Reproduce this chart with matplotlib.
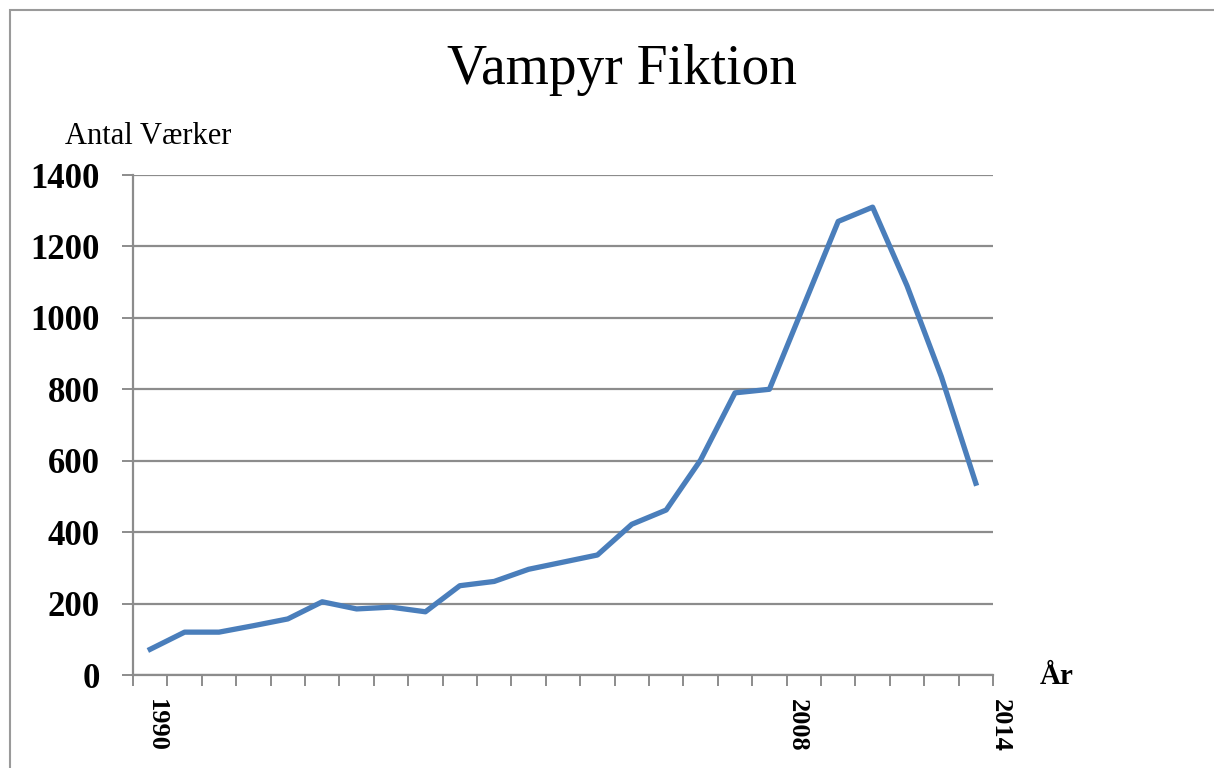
import numpy as np
import matplotlib.pyplot as plt
import matplotlib.transforms as mtransforms
from matplotlib.patches import Rectangle

# data
years = list(range(1990, 2015))
vaerker = [72, 120, 120, 138, 157, 205, 185, 190, 177, 250, 262, 296,
           316, 336, 422, 462, 602, 790, 800, 1035, 1270, 1310, 1090, 835, 537]
shown_years = [1990, 2008, 2014]

plt.rcParams['font.family'] = ['Liberation Serif', 'DejaVu Serif']

fig = plt.figure(figsize=(12.14, 7.68), dpi=100)
fig.patches.append(Rectangle((10/1214, -0.01), 1.1, 1 - 10/768 + 0.01, transform=fig.transFigure,
                             fill=False, edgecolor='#9a9a9a', lw=1.5))

ax = fig.add_axes([133/1214, 1 - 675/768, 860/1214, 500/768])
ax.plot(years, vaerker, color='#4a7ebb', lw=3.8, solid_joinstyle='round', zorder=3)

ax.set_xlim(1989.5, 2014.5)
ax.set_ylim(0, 1400)
ax.set_yticks(np.arange(0, 1401, 200))
ax.grid(axis='y', color='#8c8c8c', lw=1.6)
ax.set_axisbelow(True)

for s in ['top', 'right']:
    ax.spines[s].set_visible(False)
for s in ['left', 'bottom']:
    ax.spines[s].set_color('#8c8c8c')
    ax.spines[s].set_linewidth(1.6)

ax.set_xticks(shown_years)
ax.set_xticklabels([str(y) for y in shown_years], rotation=-90, fontsize=19,
                   fontweight='bold', va='top', ha='center')
ax.set_xticks(np.arange(1989.5, 2015, 1), minor=True)
ax.tick_params(axis='x', which='major', length=0, pad=17)
ax.tick_params(axis='x', which='minor', length=8, width=1.4, color='#8c8c8c', direction='out')
ax.tick_params(axis='y', length=8, width=1.4, color='#8c8c8c', pad=16, labelsize=25)
for lab in ax.get_yticklabels():
    lab.set_fontweight('bold')

# the year labels sit a little right of their categories in the original
for lab, dx in zip(ax.get_xticklabels(), [6, 28, 25]):
    lab.set_transform(lab.get_transform() +
                      mtransforms.ScaledTranslation(dx / 100, 0, fig.dpi_scale_trans))

fig.text(447/1214, 1 - 70/768, 'Vampyr Fiktion', fontsize=40, va='center', ha='left')
fig.text(65/1214, 1 - 137/768, 'Antal Værker', fontsize=22, va='center', ha='left')
fig.text(1040/1214, 1 - 676/768, 'År', fontsize=21, fontweight='bold', va='center', ha='left')

fig.savefig('out.png', dpi=100)
